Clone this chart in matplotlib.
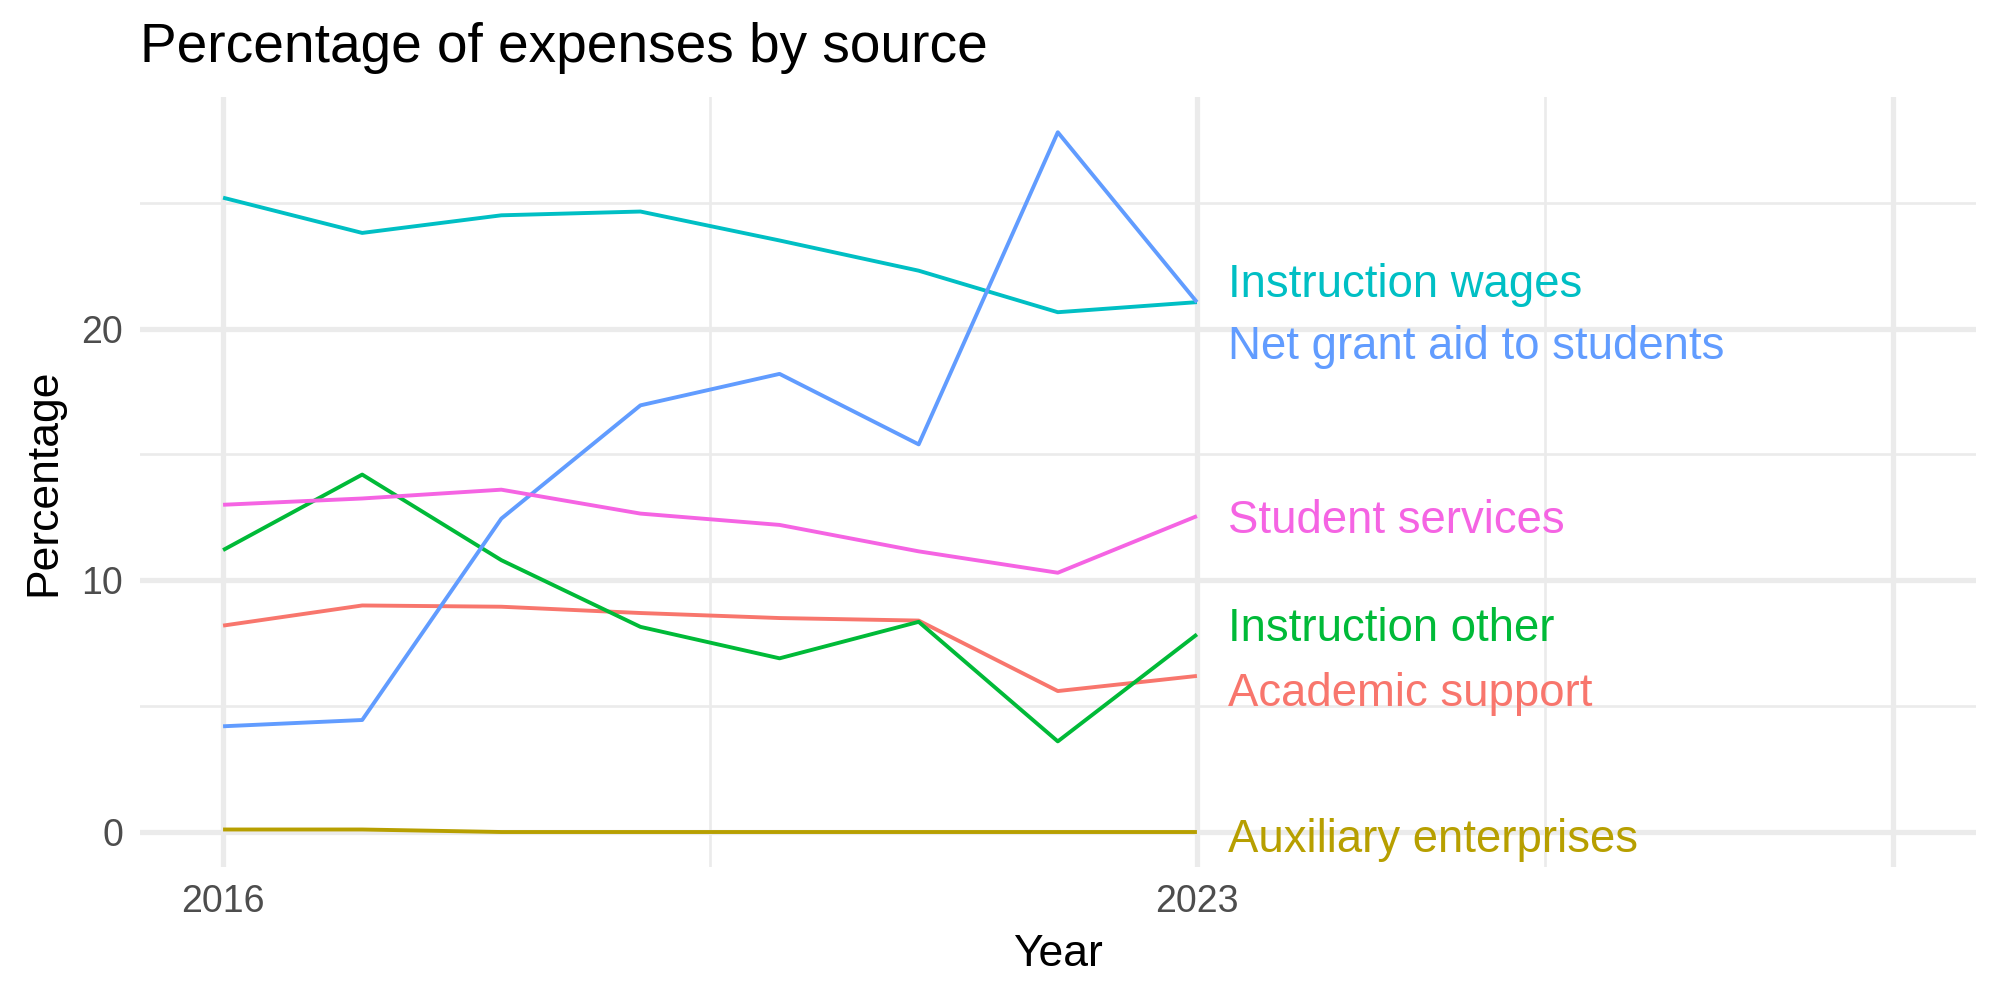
import matplotlib
matplotlib.use("Agg")
import matplotlib.pyplot as plt

years = [2016, 2017, 2018, 2019, 2020, 2021, 2022, 2023]

instruction_wages = [25.2, 23.8, 24.5, 24.65, 23.5, 22.3, 20.65, 21.05]
net_grant_aid = [4.2, 4.45, 12.45, 16.95, 18.2, 15.4, 27.8, 21.05]
student_services = [13.0, 13.25, 13.6, 12.65, 12.2, 11.15, 10.3, 12.55]
instruction_other = [11.2, 14.2, 10.8, 8.15, 6.9, 8.35, 3.6, 7.85]
academic_support = [8.2, 9.0, 8.95, 8.7, 8.5, 8.4, 5.6, 6.2]
auxiliary = [0.1, 0.1, 0.0, 0.0, 0.0, 0.0, 0.0, 0.0]

series_names = ["Academic support", "Auxiliary enterprises", "Instruction other",
                "Instruction wages", "Net grant aid to students", "Student services"]
series_values = [academic_support, auxiliary, instruction_other,
                 instruction_wages, net_grant_aid, student_services]
series_colors = ["#F8766D", "#B79F00", "#00BA38", "#00BFC4", "#619CFF", "#F564E3"]
# repelled label heights (data units)
label_y = [5.5, -0.3, 8.05, 21.75, 19.25, 12.35]

plt.rcParams["font.family"] = ["Liberation Sans", "DejaVu Sans"]

fig = plt.figure(figsize=(10, 5), dpi=200)
ax = fig.add_axes([0.0698, 0.133, 0.9182, 0.770])

for name, vals, col, ly in zip(series_names, series_values, series_colors, label_y):
    ax.plot(years, vals, color=col, lw=1.4, solid_capstyle="butt", zorder=3)
    ax.text(2023.22, ly, name, color=col, fontsize=16.4, ha="left", va="center", zorder=4)

ax.set_xlim(2015.4, 2028.6)
ax.set_ylim(-1.39, 29.2)
ax.set_xticks([2016, 2023, 2028])
ax.set_xticklabels(["2016", "2023", ""])
ax.set_xticks([2019.5, 2025.5], minor=True)
ax.set_yticks([0, 10, 20])
ax.set_yticks([5, 15, 25], minor=True)

ax.grid(which="major", color="#EBEBEB", lw=1.9, zorder=0)
ax.grid(which="minor", color="#EBEBEB", lw=0.95, zorder=0)
ax.set_axisbelow(True)
for s in ax.spines.values():
    s.set_visible(False)
ax.tick_params(which="both", length=0, labelsize=13.5, labelcolor="#4D4D4D")
ax.tick_params(axis="x", pad=6)
ax.tick_params(axis="y", pad=6)

ax.set_xlabel("Year", fontsize=16, labelpad=5)
ax.set_ylabel("Percentage", fontsize=16, labelpad=6)
fig.text(0.0698, 0.952, "Percentage of expenses by source", fontsize=19.8,
         ha="left", va="center")

fig.savefig("out.png", dpi=200)
plt.close(fig)
